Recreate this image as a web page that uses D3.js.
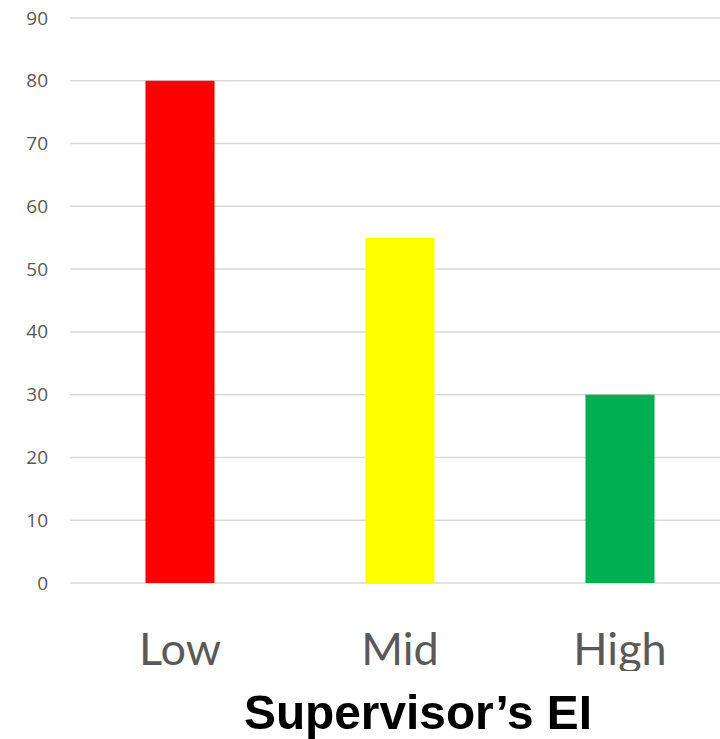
<!DOCTYPE html>
<html>
<head>
<meta charset="utf-8">
<script src="https://cdn.jsdelivr.net/npm/d3@7"></script>
<style>
  html, body { margin: 0; padding: 0; background: #fff; }
  svg { display: block; }
</style>
</head>
<body>
<svg id="chart" width="720" height="739"></svg>
<script>
// Chart data
const categories = ["Low", "Mid", "High"];
const values = [80, 55, 30];
const barColors = ["#ff0000", "#ffff00", "#00b050"];
const yTicks = [0, 10, 20, 30, 40, 50, 60, 70, 80, 90];
const xTitle = "Supervisor’s EI";

const svg = d3.select("#chart");

const plot = { left: 70, right: 730, top: 18, bottom: 583 };

const x = d3.scaleBand()
  .domain(categories)
  .range([plot.left, plot.right])
  .paddingInner(0.686)
  .paddingOuter(0.343);

const y = d3.scaleLinear()
  .domain([0, 90])
  .range([plot.bottom, plot.top]);

// Horizontal gridlines
svg.append("g")
  .selectAll("line")
  .data(yTicks)
  .join("line")
  .attr("x1", plot.left)
  .attr("x2", 720)
  .attr("y1", d => y(d))
  .attr("y2", d => y(d))
  .attr("stroke", "#d9d9d9")
  .attr("stroke-width", 1.5);

// Y axis labels
const yAxis = d3.axisLeft(y).tickValues(yTicks).tickSize(0).tickPadding(0);
const yG = svg.append("g")
  .attr("transform", `translate(48,0)`)
  .call(yAxis);
yG.select(".domain").remove();
yG.selectAll("text")
  .attr("fill", "#595959")
  .attr("font-family", "'Open Sans', sans-serif")
  .attr("font-size", 19);

// Bars
svg.append("g")
  .selectAll("rect")
  .data(categories)
  .join("rect")
  .attr("x", d => x(d))
  .attr("width", x.bandwidth())
  .attr("y", (d, i) => y(values[i]))
  .attr("height", (d, i) => y(0) - y(values[i]))
  .attr("fill", (d, i) => barColors[i]);

// Category labels, clipped at the bottom edge
svg.append("defs").append("clipPath")
  .attr("id", "catClip")
  .append("rect")
  .attr("x", 0).attr("y", 600).attr("width", 720).attr("height", 71);

const xAxis = d3.axisBottom(x).tickSize(0).tickPadding(0);
const xG = svg.append("g")
  .attr("clip-path", "url(#catClip)")
  .append("g")
  .attr("transform", "translate(0,665)")
  .call(xAxis);
xG.select(".domain").remove();
xG.selectAll("text")
  .attr("dy", 0)
  .attr("fill", "#595959")
  .attr("font-family", "Lato, sans-serif")
  .attr("font-size", 45);

// Axis title
svg.append("text")
  .attr("x", 418)
  .attr("y", 729)
  .attr("text-anchor", "middle")
  .attr("font-family", "'Liberation Sans', Arial, sans-serif")
  .attr("font-weight", "bold")
  .attr("font-size", 49)
  .attr("textLength", 348)
  .attr("lengthAdjust", "spacingAndGlyphs")
  .attr("fill", "#000")
  .text(xTitle);
</script>
</body>
</html>
